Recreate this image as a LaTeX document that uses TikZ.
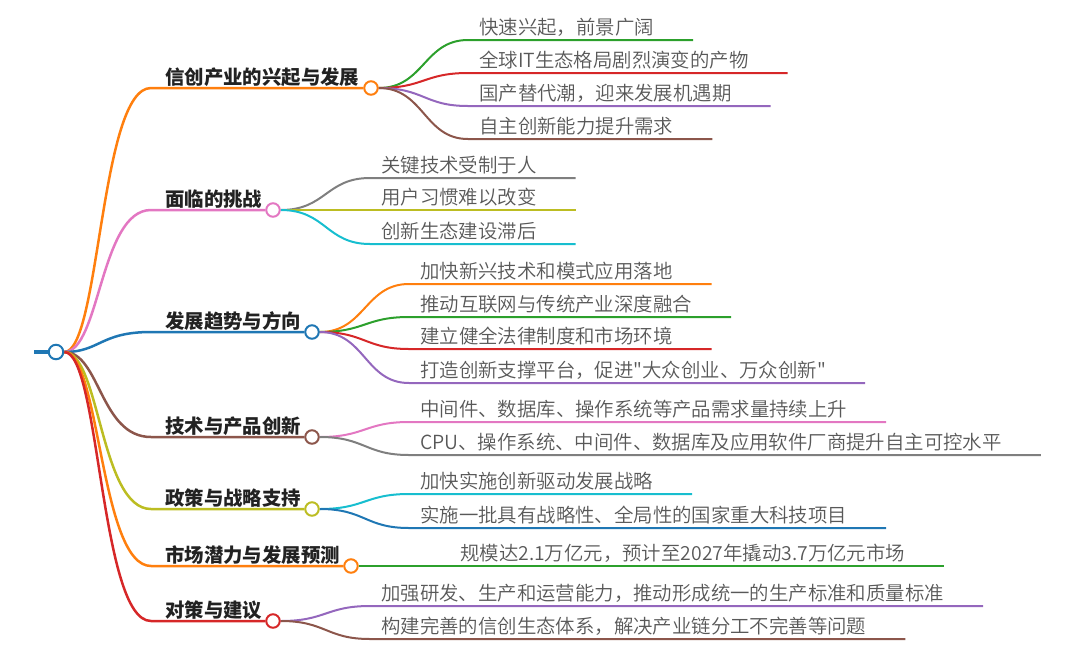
\documentclass[tikz,border=0pt]{standalone}
\usepackage{fontspec}
\setmainfont{Noto Sans CJK SC}[Ligatures=TeXOff]
\IfFontExistsTF{Noto Sans CJK SC DemiLight}
  {\newfontfamily\leaffont{Noto Sans CJK SC DemiLight}[Ligatures=TeXOff]}
  {\newfontfamily\leaffont{Noto Sans CJK SC}[Ligatures=TeXOff]}
\usetikzlibrary{calc, backgrounds}
\definecolor{mapblue}{RGB}{31,119,180}
\definecolor{maporange}{RGB}{255,127,14}
\definecolor{mapgreen}{RGB}{44,160,44}
\definecolor{mapred}{RGB}{214,39,40}
\definecolor{mappurple}{RGB}{148,103,189}
\definecolor{mapbrown}{RGB}{140,86,75}
\definecolor{mappink}{RGB}{227,119,194}
\definecolor{mapgray}{RGB}{127,127,127}
\definecolor{mapolive}{RGB}{188,189,34}
\definecolor{mapcyan}{RGB}{23,190,207}
\definecolor{headink}{RGB}{34,34,34}
\definecolor{leafink}{RGB}{88,88,88}

\begin{document}
\begin{tikzpicture}[x=1pt, y=-1pt,
  headtext/.style={anchor=base west, inner sep=0pt, text=headink, font=\fontsize{19.4}{23}\selectfont\bfseries},
  leaftext/.style={anchor=base west, inner sep=0pt, text=leafink, font=\leaffont\fontsize{19.4}{23}\selectfont},
  knot/.style={circle, draw=#1, fill=white, line width=2pt, minimum size=13.5pt, inner sep=0pt},
  branch/.style={draw=#1, line width=2.5pt},
  twig/.style={draw=#1, line width=2pt}
]
  \useasboundingbox (0,0) rectangle (1080,665);

  \coordinate (stub) at (34,352);
  \node[knot=mapblue, minimum size=14.5pt] (root) at (56,352) {};

  \node[headtext] (h1) at (165,84.5) {信创产业的兴起与发展};
  \node[knot=maporange] (h1k) at (371,88) {};
  \node[headtext] (h2) at (165,206.5) {面临的挑战};
  \node[knot=mappink] (h2k) at (273,210) {};
  \node[headtext] (h3) at (165,328.5) {发展趋势与方向};
  \node[knot=mapblue] (h3k) at (312,332) {};
  \node[headtext] (h4) at (165,433.5) {技术与产品创新};
  \node[knot=mapbrown] (h4k) at (312,437) {};
  \node[headtext] (h5) at (165,505.5) {政策与战略支持};
  \node[knot=mapolive] (h5k) at (312,509) {};
  \node[headtext] (h6) at (165,562.5) {市场潜力与发展预测};
  \node[knot=maporange] (h6k) at (351,566) {};
  \node[headtext] (h7) at (165,617.5) {对策与建议};
  \node[knot=mapred] (h7k) at (273,621) {};

  \node[leaftext] (c11) at (479,34) {快速兴起，前景广阔};
  \node[leaftext] (c12) at (479,67) {全球IT生态格局剧烈演变的产物};
  \node[leaftext] (c13) at (479,100) {国产替代潮，迎来发展机遇期};
  \node[leaftext] (c14) at (479,133) {自主创新能力提升需求};
  \node[leaftext] (c21) at (381,172) {关键技术受制于人};
  \node[leaftext] (c22) at (381,204) {用户习惯难以改变};
  \node[leaftext] (c23) at (381,238) {创新生态建设滞后};
  \node[leaftext] (c31) at (420,278) {加快新兴技术和模式应用落地};
  \node[leaftext] (c32) at (420,311) {推动互联网与传统产业深度融合};
  \node[leaftext] (c33) at (420,343) {建立健全法律制度和市场环境};
  \node[leaftext] (c34) at (420,377) {打造创新支撑平台，促进"大众创业、万众创新"};
  \node[leaftext] (c41) at (420,416) {中间件、数据库、操作系统等产品需求量持续上升};
  \node[leaftext] (c42) at (420,449) {CPU、操作系统、中间件、数据库及应用软件厂商提升自主可控水平};
  \node[leaftext] (c51) at (420,488) {加快实施创新驱动发展战略};
  \node[leaftext] (c52) at (420,522) {实施一批具有战略性、全局性的国家重大科技项目};
  \node[leaftext] (c61) at (460,560) {规模达2.1万亿元，预计至2027年撬动3.7万亿元市场};
  \node[leaftext] (c71) at (381,600) {加强研发、生产和运营能力，推动形成统一的生产标准和质量标准};
  \node[leaftext] (c72) at (381,633) {构建完善的信创生态体系，解决产业链分工不完善等问题};

  \begin{pgfonlayer}{background}
    \draw[mapblue, line width=4pt] (stub) -- (root);

    \draw[branch=maporange] (root) .. controls (100,352) and (100,88) .. (151,88) -- (h1k);
    \draw[branch=mappink] (root) .. controls (100,352) and (100,210) .. (151,210) -- (h2k);
    \draw[branch=mapblue] (root) .. controls (100,352) and (100,332) .. (151,332) -- (h3k);
    \draw[branch=mapbrown] (root) .. controls (100,352) and (100,437) .. (151,437) -- (h4k);
    \draw[branch=mapolive] (root) .. controls (100,352) and (100,509) .. (151,509) -- (h5k);
    \draw[branch=maporange] (root) .. controls (100,352) and (100,566) .. (151,566) -- (h6k);
    \draw[branch=mapred] (root) .. controls (100,352) and (100,621) .. (151,621) -- (h7k);

    \draw[twig=mapgreen] (h1k) .. controls (424,88) and (424,40) .. (468,40) -- (c11.east |- 0,40) -- ++(39,0);
    \draw[twig=mapred] (h1k) .. controls (424,88) and (424,73) .. (468,73) -- (c12.east |- 0,73) -- ++(39,0);
    \draw[twig=mappurple] (h1k) .. controls (424,88) and (424,106) .. (468,106) -- (c13.east |- 0,106) -- ++(39,0);
    \draw[twig=mapbrown] (h1k) .. controls (424,88) and (424,139) .. (468,139) -- (c14.east |- 0,139) -- ++(39,0);

    \draw[twig=mapgray] (h2k) .. controls (326,210) and (326,178) .. (370,178) -- (c21.east |- 0,178) -- ++(39,0);
    \draw[twig=mapolive] (h2k) -- (c22.east |- 0,210) -- ++(39,0);
    \draw[twig=mapcyan] (h2k) .. controls (326,210) and (326,244) .. (370,244) -- (c23.east |- 0,244) -- ++(39,0);

    \draw[twig=maporange] (h3k) .. controls (365,332) and (365,284) .. (409,284) -- (c31.east |- 0,284) -- ++(39,0);
    \draw[twig=mapgreen] (h3k) .. controls (365,332) and (365,317) .. (409,317) -- (c32.east |- 0,317) -- ++(39,0);
    \draw[twig=mapred] (h3k) .. controls (365,332) and (365,349) .. (409,349) -- (c33.east |- 0,349) -- ++(39,0);
    \draw[twig=mappurple] (h3k) .. controls (365,332) and (365,383) .. (409,383) -- (c34.east |- 0,383) -- ++(39,0);

    \draw[twig=mappink] (h4k) .. controls (365,437) and (365,422) .. (409,422) -- (c41.east |- 0,422) -- ++(39,0);
    \draw[twig=mapgray] (h4k) .. controls (365,437) and (365,455) .. (409,455) -- (c42.east |- 0,455) -- ++(39,0);

    \draw[twig=mapcyan] (h5k) .. controls (365,509) and (365,494) .. (409,494) -- (c51.east |- 0,494) -- ++(39,0);
    \draw[twig=mapblue] (h5k) .. controls (365,509) and (365,528) .. (409,528) -- (c52.east |- 0,528) -- ++(39,0);

    \draw[twig=mapgreen] (h6k) -- (c61.east |- 0,566) -- ++(39,0);

    \draw[twig=mappurple] (h7k) .. controls (326,621) and (326,606) .. (370,606) -- (c71.east |- 0,606) -- ++(39,0);
    \draw[twig=mapbrown] (h7k) .. controls (326,621) and (326,639) .. (370,639) -- (c72.east |- 0,639) -- ++(39,0);
  \end{pgfonlayer}
\end{tikzpicture}
\end{document}
